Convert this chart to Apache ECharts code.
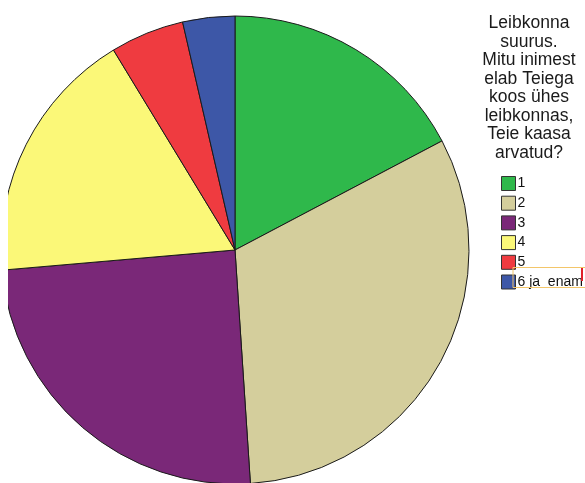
<!DOCTYPE html>
<html>
<head>
<meta charset="utf-8">
<script src="https://cdn.jsdelivr.net/npm/echarts@6/dist/echarts.min.js"></script>
<style>
  html, body { margin: 0; padding: 0; background: #fff; }
  #chart { width: 585px; height: 483px; }
</style>
</head>
<body>
<div id="chart"></div>
<script>
	// leibkonna suurus, osakaal %
	var categories = ['1', '2', '3', '4', '5', '6 ja  enam'];
	var shares = [17.3, 31.7, 24.7, 17.7, 5.1, 3.6];
	var colors = ['#2fb84b', '#d4ce9c', '#7a2878', '#fbf878', '#ef3b40', '#3d57a7'];
	var titleText = 'Leibkonna\nsuurus.\nMitu inimest\nelab Teiega\nkoos ühes\nleibkonnas,\nTeie kaasa\narvatud?';

	var myChart = echarts.init(document.getElementById('chart'));

	var pieData = categories.map(function (c, i) {
		return { name: c, value: shares[i], itemStyle: { color: colors[i] } };
	});

	var option = {
		animation: false,
		title: {
			text: titleText,
			left: 524,
			top: 9,
			textAlign: 'center',
			textStyle: {
				fontFamily: 'Liberation Sans',
				fontSize: 17.5,
				fontWeight: 'normal',
				lineHeight: 18.5,
				color: '#1a1a1a',
				align: 'center'
			}
		},
		legend: {
			orient: 'vertical',
			left: 496,
			top: 171,
			icon: 'rect',
			itemWidth: 14,
			itemHeight: 14,
			itemGap: 4.7,
			data: categories,
			itemStyle: { borderColor: '#333', borderWidth: 1 },
			textStyle: {
				fontFamily: 'Liberation Sans',
				fontSize: 14,
				color: '#111',
				padding: [2, 0, 0, -3]
			}
		},
		series: [{
			type: 'pie',
			center: [235, 250],
			radius: 234,
			startAngle: 90,
			clockwise: true,
			label: { show: false },
			labelLine: { show: false },
			emphasis: { disabled: true },
			itemStyle: { borderColor: '#1a1a1a', borderWidth: 1 },
			data: pieData
		}],
		graphic: [
			{ type: 'rect', z: 100, shape: { x: 0, y: 0, width: 8, height: 483 }, style: { fill: '#fff' } },
			{ type: 'rect', z: 100, shape: { x: 513, y: 267.5, width: 80, height: 20 }, style: { fill: null, stroke: '#f3c66a', lineWidth: 1 } },
			{ type: 'rect', z: 101, shape: { x: 581, y: 268, width: 2, height: 13 }, style: { fill: '#e0202a' } }
		]
	};
	myChart.setOption(option);
</script>
</body>
</html>
